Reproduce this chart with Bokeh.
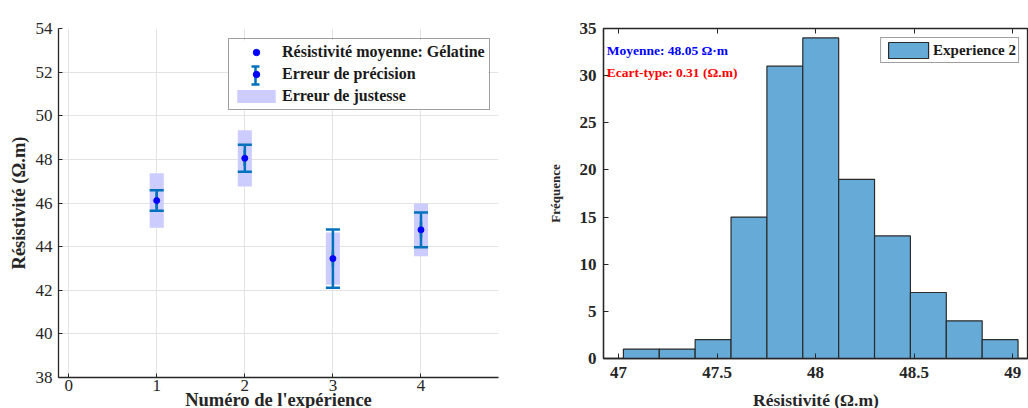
import math
from bokeh.plotting import figure
from bokeh.layouts import row
from bokeh.models import (ColumnDataSource, Legend, LegendItem, Label, LinearAxis,
                          FixedTicker, CustomJSTickFormatter)
from bokeh.embed import file_html
from bokeh.resources import INLINE

# ---------------- data ----------------
experiences = [1, 2, 3, 4]
resistivite_moy = [46.11, 48.05, 43.45, 44.77]
erreur_precision = [0.47, 0.62, 1.33, 0.80]
erreur_justesse = [1.25, 1.29, 1.20, 1.21]

hist_edges = [47.025, 47.207, 47.389, 47.571, 47.753, 47.935, 48.117,
              48.299, 48.481, 48.663, 48.845, 49.027]
hist_counts = [1, 1, 2, 15, 31, 34, 19, 13, 7, 4, 2]

left_xticks = [0, 1, 2, 3, 4]
left_yticks = [38, 40, 42, 44, 46, 48, 50, 52, 54]
right_xticks = [47, 47.5, 48, 48.5, 49]
right_xtick_labels = ["47", "47.5", "48", "48.5", "49"]
right_yticks = [0, 5, 10, 15, 20, 25, 30, 35]

moyenne_txt = "Moyenne: 48.05 Ω·m"
ecart_txt = "Ecart-type: 0.31 (Ω.m)"

SERIF = "'Liberation Serif', serif"
ERR_COL = "#0072BD"
DOT_COL = "#0000FF"
BAR_W = 0.16

# ---------------- left figure ----------------
FW1, FH1 = 440, 349
X1R, Y1R = (-0.115, 4.88), (38, 54)
p1 = figure(frame_width=FW1, frame_height=FH1, x_range=X1R, y_range=Y1R,
            output_backend="svg", toolbar_location=None,
            min_border_left=58, min_border_top=19, min_border_right=22, min_border_bottom=40)
p1.outline_line_color = None
p1.background_fill_color = "white"

lo_j = [m - e for m, e in zip(resistivite_moy, erreur_justesse)]
hi_j = [m + e for m, e in zip(resistivite_moy, erreur_justesse)]
lo_p = [m - e for m, e in zip(resistivite_moy, erreur_precision)]
hi_p = [m + e for m, e in zip(resistivite_moy, erreur_precision)]
src = ColumnDataSource(dict(x=experiences, y=resistivite_moy, lo_j=lo_j, hi_j=hi_j,
                            lo_p=lo_p, hi_p=hi_p,
                            cl=[x - BAR_W / 2 for x in experiences],
                            cr=[x + BAR_W / 2 for x in experiences]))

r_just = p1.vbar(x="x", width=BAR_W, bottom="lo_j", top="hi_j", source=src,
                 fill_color="#CCCCFF", line_color=None)
p1.segment(x0="x", y0="lo_p", x1="x", y1="hi_p", source=src,
           line_color=ERR_COL, line_width=2.5)
p1.segment(x0="cl", y0="lo_p", x1="cr", y1="lo_p", source=src, line_color=ERR_COL, line_width=2.5)
p1.segment(x0="cl", y0="hi_p", x1="cr", y1="hi_p", source=src, line_color=ERR_COL, line_width=2.5)
r_dash = p1.scatter(x="x", y="y", source=src, marker="dash", angle=math.pi / 2, size=16,
                    line_color=ERR_COL, line_width=2.5)

for ax in (p1.xaxis[0], p1.yaxis[0]):
    ax.major_label_text_font = SERIF
    ax.major_label_text_font_size = "17px"
    ax.major_label_text_color = "#262626"
    ax.axis_label_text_font = SERIF
    ax.axis_label_text_font_style = "bold"
    ax.axis_label_text_font_size = "18.5px"
    ax.axis_label_text_color = "#262626"
    ax.axis_line_color = "#262626"
    ax.axis_line_width = 1.3
    ax.major_tick_in = 4
    ax.major_tick_out = 0
    ax.major_tick_line_color = "#262626"
    ax.minor_tick_line_color = None
p1.xaxis.ticker = FixedTicker(ticks=left_xticks)
p1.yaxis.ticker = FixedTicker(ticks=left_yticks)
p1.xaxis.axis_label = "Numéro de l'expérience"
p1.yaxis.axis_label = "Résistivité (Ω.m)"
p1.xaxis.major_label_standoff = 2
p1.xaxis.axis_label_standoff = -4
p1.yaxis.major_label_standoff = 6
p1.yaxis.axis_label_standoff = 4
p1.xgrid.ticker = FixedTicker(ticks=left_xticks)
p1.ygrid.ticker = FixedTicker(ticks=left_yticks)
p1.grid.grid_line_color = "#e3e3e3"
p1.grid.grid_line_width = 1

# legend geometry (screen px, relative to the frame)
LEG_X, LEG_TOP = 170, 12
PAD, SP, ROW, GW, GH, STD, LW = 3, 2, 20, 48, 16, 2, 204
LEG_H = 3 * ROW + 2 * SP + 2 * PAD
LEG_W = 2 * PAD + GW + STD + LW

def sx(px):
    return X1R[0] + px / FW1 * (X1R[1] - X1R[0])
def sy(py):
    return Y1R[0] + py / FH1 * (Y1R[1] - Y1R[0])

# white legend background (drawn as a glyph so the error-bar symbol can sit above it)
p1.quad(left=[sx(LEG_X)], right=[sx(LEG_X + LEG_W)], bottom=[sy(FH1 - LEG_TOP - LEG_H)],
        top=[sy(FH1 - LEG_TOP)], fill_color="white", line_color=None)
# I-beam symbol of "Erreur de précision"
cx = LEG_X + PAD + GW / 2
cy = FH1 - (LEG_TOP + PAD + ROW + SP + ROW / 2)
p1.segment(x0=[sx(cx), sx(cx - 4), sx(cx - 4)], y0=[sy(cy - 9), sy(cy - 9), sy(cy + 9)],
           x1=[sx(cx), sx(cx + 4), sx(cx + 4)], y1=[sy(cy + 9), sy(cy - 9), sy(cy + 9)],
           line_color=ERR_COL, line_width=2.5)

r_pts = p1.scatter(x="x", y="y", source=src, size=6, fill_color=DOT_COL, line_color=DOT_COL)

leg1 = Legend(items=[
    LegendItem(label="Résistivité moyenne: Gélatine", renderers=[r_pts]),
    LegendItem(label="Erreur de précision", renderers=[r_dash, r_pts]),
    LegendItem(label="Erreur de justesse", renderers=[r_just]),
], location=(LEG_X, FH1 - LEG_TOP - LEG_H), margin=0, padding=PAD, spacing=SP,
    glyph_width=GW, glyph_height=GH, label_height=ROW, label_width=LW, label_standoff=STD,
    label_text_font=SERIF, label_text_font_style="bold", label_text_font_size="16px",
    label_text_color="#1a1a1a", border_line_color="#404040", border_line_width=1.5,
    background_fill_alpha=0)
p1.add_layout(leg1, "center")

# ---------------- right figure ----------------
p2 = figure(frame_width=425, frame_height=330, x_range=(46.924, 49.080), y_range=(0, 35),
            output_backend="svg", toolbar_location=None,
            min_border_left=83, min_border_top=28, min_border_right=0, min_border_bottom=50)
p2.outline_line_color = "#262626"
p2.outline_line_width = 1.3
p2.xgrid.grid_line_color = None
p2.ygrid.grid_line_color = None

hsrc = ColumnDataSource(dict(left=hist_edges[:-1], right=hist_edges[1:], top=hist_counts,
                             bottom=[0] * len(hist_counts)))
r_hist = p2.quad(left="left", right="right", top="top", bottom="bottom", source=hsrc,
                 fill_color="#66AAD7", line_color="#2b2b2b", line_width=1.2)

for ax in (p2.xaxis[0], p2.yaxis[0]):
    ax.major_label_text_font = SERIF
    ax.major_label_text_font_style = "bold"
    ax.major_label_text_font_size = "17px"
    ax.major_label_text_color = "#262626"
    ax.axis_label_text_font = SERIF
    ax.axis_label_text_font_style = "bold"
    ax.axis_label_text_color = "#262626"
    ax.axis_line_color = "#262626"
    ax.axis_line_width = 1.3
    ax.major_tick_in = 5
    ax.major_tick_out = 0
    ax.major_tick_line_color = "#262626"
    ax.minor_tick_line_color = None
p2.xaxis.ticker = FixedTicker(ticks=right_xticks)
p2.xaxis.major_label_overrides = {float(t): l for t, l in zip(right_xticks, right_xtick_labels)}
p2.yaxis.ticker = FixedTicker(ticks=right_yticks)
p2.xaxis.axis_label = "Résistivité (Ω.m)"
p2.xaxis.axis_label_text_font_size = "17.5px"
p2.yaxis.axis_label = "Fréquence"
p2.yaxis.axis_label_text_font_size = "13px"
p2.xaxis.major_label_standoff = 8
p2.xaxis.axis_label_standoff = 9
p2.yaxis.major_label_standoff = 7
p2.yaxis.axis_label_standoff = 14

top_ax = LinearAxis(ticker=FixedTicker(ticks=right_xticks), axis_line_color=None,
                    major_tick_in=5, major_tick_out=0, major_tick_line_color="#262626",
                    minor_tick_line_color=None, major_label_standoff=0,
                    formatter=CustomJSTickFormatter(code="return ''"))
p2.add_layout(top_ax, "above")

p2.add_layout(Label(x=46.94, y=32.7, text=moyenne_txt, text_font=SERIF, text_font_style="bold",
                    text_font_size="13.5px", text_color="#0000FF", text_baseline="middle"))
p2.add_layout(Label(x=46.94, y=30.35, text=ecart_txt, text_font=SERIF, text_font_style="bold",
                    text_font_size="13.5px", text_color="#FF0000", text_baseline="middle"))

leg2 = Legend(items=[LegendItem(label="Experience 2", renderers=[r_hist])],
              location="top_right", margin=9, padding=2, glyph_width=50, glyph_height=20,
              label_height=20, label_standoff=0, label_text_font=SERIF,
              label_text_font_style="bold", label_text_font_size="15px",
              label_text_color="#1a1a1a", border_line_color="#404040", border_line_width=1.5,
              background_fill_color="white", background_fill_alpha=1)
p2.add_layout(leg2, "center")

layout = row(p1, p2)
open("out.html", "w").write(file_html(layout, INLINE))
